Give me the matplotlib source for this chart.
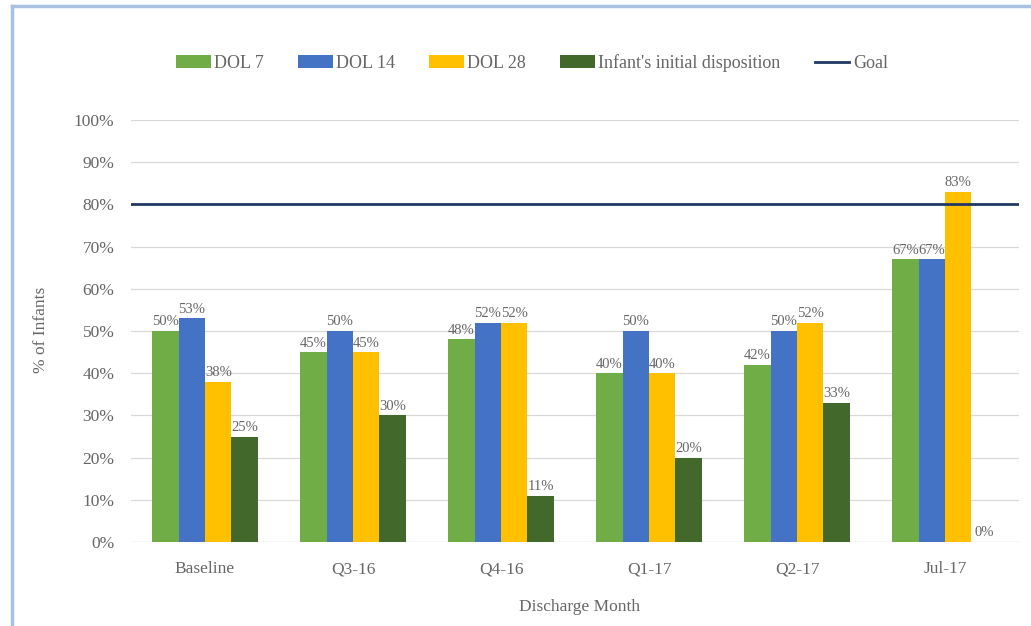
import matplotlib
matplotlib.use("Agg")
import matplotlib.pyplot as plt
import numpy as np
from matplotlib.patches import Patch
from matplotlib.lines import Line2D

categories = ["Baseline", "Q3-16", "Q4-16", "Q1-17", "Q2-17", "Jul-17"]
series_names = ["DOL 7", "DOL 14", "DOL 28", "Infant's initial disposition"]
dol7 = [50, 45, 48, 40, 42, 67]
dol14 = [53, 50, 52, 50, 50, 67]
dol28 = [38, 45, 52, 40, 52, 83]
initial = [25, 30, 11, 20, 33, 0]
goal = 80
yticks = [0, 10, 20, 30, 40, 50, 60, 70, 80, 90, 100]

colors = ["#70AD47", "#4472C4", "#FFC000", "#43682B"]
goal_color = "#1F3864"
text_gray = "#666666"

plt.rcParams['font.family'] = ['Liberation Serif', 'DejaVu Serif']

fig = plt.figure(figsize=(10.31, 6.26), dpi=100)
W, H = 1031, 626
ax = fig.add_axes([131 / W, (H - 542) / H, (1019 - 131) / W, (542 - 120) / H])

x = np.arange(len(categories))
bw = 0.179
all_series = [dol7, dol14, dol28, initial]
for i, (vals, c) in enumerate(zip(all_series, colors)):
    pos = x + (i - 1.5) * bw
    ax.bar(pos, vals, width=bw, color=c, zorder=2)
    for p, v in zip(pos, vals):
        ax.text(p, v + 0.6, f"{v}%", ha="center", va="bottom", fontsize=10.5,
                color=text_gray, zorder=3)

ax.axhline(goal, color=goal_color, lw=2, zorder=2.5)

ax.set_xlim(-0.5, len(categories) - 0.5)
ax.set_ylim(0, 100)
ax.set_yticks(yticks)
ax.set_yticklabels([f"{t}%" for t in yticks], fontsize=12.5, color=text_gray)
ax.set_xticks(x)
ax.set_xticklabels(categories, fontsize=12.5, color=text_gray)
ax.tick_params(axis="y", length=0, pad=12)
ax.tick_params(axis="x", length=0, pad=14)
ax.grid(axis="y", color="#D9D9D9", lw=0.9, zorder=0)
for s in ax.spines.values():
    s.set_visible(False)
ax.axhline(0, color="#D9D9D9", lw=0.9, zorder=1)

fig.text(41 / W, 1 - 330 / H, "% of Infants", rotation=90, ha="center", va="center",
         fontsize=12.5, color=text_gray)
fig.text(580 / W, 1 - 607 / H, "Discharge Month", ha="center", va="center",
         fontsize=12.5, color=text_gray)

handles = [Patch(facecolor=c, edgecolor="none") for c in colors]
handles.append(Line2D([0], [0], color=goal_color, lw=2))
labels = series_names + ["Goal"]
fig.legend(handles, labels, loc="center", bbox_to_anchor=(532 / W, 1 - 63 / H), ncol=5,
           frameon=False, fontsize=13, handlelength=1.9, handleheight=0.7,
           handletextpad=0.2, columnspacing=1.9, labelcolor=text_gray)

# light blue frame (left and top)
fig.add_artist(Line2D([12 / W, 12 / W], [0, 1 - 6 / H], transform=fig.transFigure,
                      color="#A9C1E0", lw=2.5))
fig.add_artist(Line2D([12 / W, 1], [1 - 6 / H, 1 - 6 / H], transform=fig.transFigure,
                      color="#A9C1E0", lw=2.5))

fig.savefig("out.png", dpi=100, facecolor="white")
